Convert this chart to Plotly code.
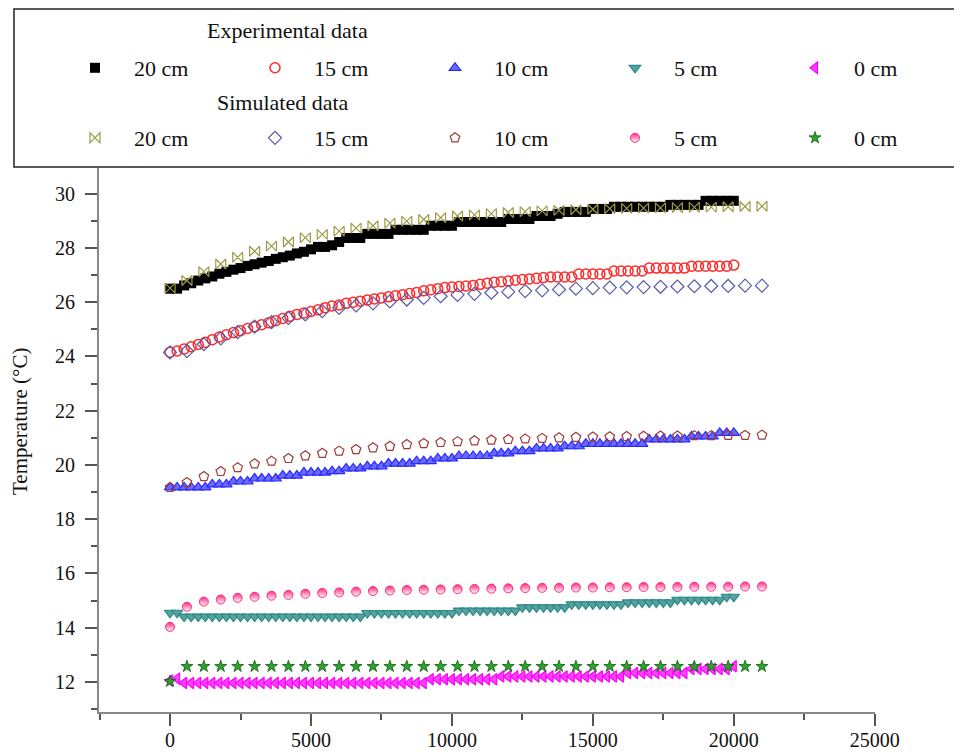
import plotly.graph_objects as go

# ---------------- data ----------------
t_exp = list(range(0, 20001, 250))     # s, experimental sampling
t_sim = list(range(0, 21001, 600))     # s, simulated output

exp_20 = [26.50, 26.50, 26.62, 26.70, 26.80, 26.88, 26.95, 27.05, 27.12, 27.20,
          27.26, 27.34, 27.40, 27.46, 27.52, 27.60, 27.66, 27.72, 27.80, 27.86,
          27.95, 28.04, 28.04, 28.10, 28.22, 28.37, 28.37, 28.37, 28.52, 28.52,
          28.52, 28.52, 28.67, 28.67, 28.67, 28.67, 28.67, 28.82, 28.82, 28.82,
          28.82, 28.96, 28.96, 28.96, 28.96, 28.96, 28.96, 28.96, 29.07, 29.07,
          29.07, 29.07, 29.18, 29.18, 29.18, 29.26, 29.33, 29.33, 29.33, 29.33,
          29.44, 29.44, 29.44, 29.52, 29.52, 29.52, 29.52, 29.52, 29.52, 29.52,
          29.52, 29.59, 29.59, 29.59, 29.59, 29.59, 29.74, 29.74, 29.74, 29.74,
          29.74]

exp_15 = [24.16, 24.20, 24.28, 24.36, 24.44, 24.52, 24.62, 24.72, 24.80, 24.88,
          24.95, 25.03, 25.10, 25.17, 25.24, 25.32, 25.40, 25.48, 25.55, 25.60,
          25.66, 25.72, 25.80, 25.86, 25.90, 25.96, 26.00, 26.04, 26.08, 26.12,
          26.16, 26.20, 26.24, 26.28, 26.32, 26.36, 26.42, 26.46, 26.50, 26.54,
          26.56, 26.58, 26.60, 26.62, 26.66, 26.70, 26.74, 26.76, 26.78, 26.81,
          26.84, 26.86, 26.88, 26.91, 26.93, 26.93, 26.93, 26.93, 27.04, 27.04,
          27.04, 27.04, 27.04, 27.15, 27.15, 27.15, 27.15, 27.15, 27.26, 27.26,
          27.26, 27.26, 27.26, 27.26, 27.33, 27.33, 27.33, 27.33, 27.33, 27.33,
          27.37]

exp_10 = [19.17, 19.17, 19.17, 19.17, 19.17, 19.17, 19.28, 19.28, 19.28, 19.39,
          19.39, 19.39, 19.50, 19.50, 19.50, 19.50, 19.61, 19.61, 19.61, 19.72,
          19.72, 19.72, 19.72, 19.77, 19.77, 19.87, 19.87, 19.87, 19.95, 19.95,
          19.95, 20.05, 20.05, 20.05, 20.05, 20.14, 20.14, 20.14, 20.24, 20.24,
          20.24, 20.33, 20.33, 20.33, 20.33, 20.33, 20.43, 20.43, 20.43, 20.51,
          20.51, 20.51, 20.61, 20.61, 20.61, 20.61, 20.69, 20.69, 20.69, 20.78,
          20.78, 20.78, 20.78, 20.78, 20.78, 20.78, 20.78, 20.78, 20.94, 20.94,
          20.94, 20.94, 20.94, 20.94, 21.05, 21.05, 21.05, 21.05, 21.18, 21.18,
          21.18]

exp_5 = [14.55, 14.55, 14.41, 14.41, 14.41, 14.41, 14.41, 14.41, 14.41, 14.41,
         14.41, 14.41, 14.41, 14.41, 14.41, 14.41, 14.41, 14.41, 14.41, 14.41,
         14.41, 14.41, 14.41, 14.41, 14.41, 14.41, 14.41, 14.41, 14.54, 14.54,
         14.54, 14.54, 14.54, 14.54, 14.54, 14.54, 14.54, 14.54, 14.54, 14.54,
         14.54, 14.63, 14.63, 14.63, 14.63, 14.63, 14.63, 14.63, 14.63, 14.63,
         14.75, 14.75, 14.75, 14.75, 14.75, 14.75, 14.75, 14.86, 14.86, 14.86,
         14.86, 14.86, 14.86, 14.86, 14.86, 14.93, 14.93, 14.93, 14.93, 14.93,
         14.93, 14.93, 15.03, 15.03, 15.03, 15.03, 15.03, 15.03, 15.03, 15.14,
         15.14]

exp_0 = [12.05, 12.12, 11.96, 11.96, 11.96, 11.96, 11.96, 11.96, 11.96, 11.96,
         11.96, 11.96, 11.96, 11.96, 11.96, 11.96, 11.96, 11.96, 11.96, 11.96,
         11.96, 11.96, 11.96, 11.96, 11.96, 11.96, 11.96, 11.96, 11.96, 11.96,
         11.96, 11.96, 11.96, 11.96, 11.96, 11.96, 11.96, 12.10, 12.10, 12.10,
         12.10, 12.10, 12.10, 12.10, 12.10, 12.10, 12.10, 12.20, 12.20, 12.20,
         12.20, 12.20, 12.20, 12.20, 12.20, 12.20, 12.20, 12.20, 12.20, 12.20,
         12.20, 12.20, 12.20, 12.20, 12.20, 12.33, 12.33, 12.33, 12.33, 12.33,
         12.33, 12.33, 12.33, 12.33, 12.48, 12.48, 12.48, 12.48, 12.48, 12.48,
         12.58]

sim_20 = [26.52, 26.80, 27.13, 27.41, 27.66, 27.88, 28.07, 28.22, 28.38, 28.50,
          28.62, 28.73, 28.82, 28.92, 28.99, 29.05, 29.12, 29.18, 29.22, 29.27,
          29.31, 29.34, 29.37, 29.39, 29.41, 29.43, 29.45, 29.46, 29.47, 29.48,
          29.49, 29.50, 29.51, 29.52, 29.53, 29.54]

sim_15 = [24.15, 24.20, 24.45, 24.67, 24.90, 25.10, 25.27, 25.42, 25.55, 25.67,
          25.79, 25.88, 25.96, 26.03, 26.10, 26.16, 26.22, 26.27, 26.31, 26.35,
          26.38, 26.41, 26.44, 26.47, 26.50, 26.52, 26.54, 26.55, 26.56, 26.57,
          26.58, 26.59, 26.60, 26.60, 26.61, 26.61]

sim_10 = [19.17, 19.35, 19.57, 19.76, 19.90, 20.04, 20.14, 20.24, 20.34, 20.43,
          20.51, 20.57, 20.63, 20.69, 20.75, 20.79, 20.83, 20.86, 20.89, 20.92,
          20.94, 20.96, 20.98, 21.00, 21.02, 21.03, 21.04, 21.05, 21.06, 21.07,
          21.07, 21.08, 21.08, 21.09, 21.09, 21.10]

sim_5 = [14.03, 14.77, 14.96, 15.04, 15.10, 15.14, 15.18, 15.21, 15.25, 15.28,
         15.30, 15.33, 15.35, 15.37, 15.39, 15.40, 15.41, 15.42, 15.43, 15.44,
         15.45, 15.46, 15.47, 15.47, 15.48, 15.48, 15.49, 15.49, 15.50, 15.50,
         15.50, 15.51, 15.51, 15.51, 15.52, 15.52]

sim_0 = [12.02, 12.57, 12.57, 12.57, 12.57, 12.57, 12.57, 12.57, 12.57, 12.57,
         12.57, 12.57, 12.57, 12.57, 12.57, 12.57, 12.57, 12.57, 12.57, 12.57,
         12.57, 12.57, 12.57, 12.57, 12.57, 12.57, 12.57, 12.57, 12.57, 12.57,
         12.57, 12.57, 12.57, 12.57, 12.57, 12.57]

labels = ["20 cm", "15 cm", "10 cm", "5 cm", "0 cm"]
x_ticks = [0, 5000, 10000, 15000, 20000, 25000]
y_ticks = [12, 14, 16, 18, 20, 22, 24, 26, 28, 30]

# ---------------- figure ----------------
FONT = "Liberation Serif, Times New Roman, serif"
OFF = 8                      # page body margin in the browser
W, H = 962 - OFF, 754 - OFF
ML, MT = 99 - OFF, 168 - OFF
PW, PH = 776, 544
MR, MB = W - ML - PW, H - MT - PH


def px_x(px):                # reference-screen pixel -> paper x
    return (px - OFF - ML) / PW


def px_y(py):                # reference-screen pixel -> paper y
    return (MT + PH - (py - OFF)) / PH


fig = go.Figure()

exp_series = [
    (exp_20, dict(symbol="square", size=10, color="#000000", line=dict(width=0))),
    (exp_15, dict(symbol="circle-open", size=10, color="#ff2a2a", line=dict(width=1.5))),
    (exp_10, dict(symbol="triangle-up", size=10, color="#6b6bff",
                  line=dict(width=1.2, color="#2a2aff"))),
    (exp_5, dict(symbol="triangle-down", size=10, color="#56a29f",
                 line=dict(width=1.2, color="#2a8a87"))),
    (exp_0, dict(symbol="triangle-left", size=10, color="#ff40ff",
                 line=dict(width=1.2, color="#ff00ff"))),
]
sim_series = [
    (sim_20, dict(symbol="bowtie-open", size=10, color="#9c9c48", line=dict(width=1.2))),
    (sim_15, dict(symbol="diamond-open", size=10, color="#5a5aa8", line=dict(width=1.2))),
    (sim_10, dict(symbol="pentagon-open", size=10, color="#a03a3a", line=dict(width=1.2))),
    (sim_5, dict(symbol="circle", size=9, color="#ff2a80",
                 gradient=dict(type="vertical", color="#ffffff"),
                 line=dict(width=1, color="#ff2a80"))),
    (sim_0, dict(symbol="star", size=9, color="#2ea02e", line=dict(width=0.8, color="#106010"))),
]

for i, (vals, mk) in enumerate(exp_series):
    fig.add_trace(go.Scatter(
        x=t_exp, y=vals, mode="markers", name=labels[i], marker=mk,
        legend="legend", legendwidth=(97 if i < 4 else 45), showlegend=True))

for i, (vals, mk) in enumerate(sim_series):
    fig.add_trace(go.Scatter(
        x=t_sim, y=vals, mode="markers", name=labels[i], marker=mk,
        legend="legend2", legendwidth=(97 if i < 4 else 45), showlegend=True))

leg_common = dict(
    orientation="h", xanchor="left", yanchor="middle",
    x=px_x(56), font=dict(family=FONT, size=22, color="#111111"),
    bgcolor="rgba(0,0,0,0)", borderwidth=0, entrywidthmode="pixels",
    entrywidth=97, itemwidth=68, traceorder="normal",
)

fig.update_layout(
    width=W, height=H,
    margin=dict(l=ML, r=MR, t=MT, b=MB, autoexpand=False),
    paper_bgcolor="white", plot_bgcolor="white",
    font=dict(family=FONT, size=20, color="#111111"),
    legend=dict(**leg_common, y=px_y(68)),
    legend2=dict(**leg_common, y=px_y(138)),
    xaxis=dict(
        range=[-2520, 25010], tickvals=x_ticks, ticktext=[str(v) for v in x_ticks],
        ticks="outside", ticklen=12, tickwidth=1.5, tickcolor="#555555",
        showline=True, linecolor="#888888", linewidth=2, showgrid=False, zeroline=False,
        tickfont=dict(family=FONT, size=20, color="#111111"), ticklabelstandoff=-3,
        minor=dict(dtick=2500, tick0=0, ticks="outside", ticklen=6, tickwidth=1.5,
                   tickcolor="#555555", showgrid=False),
    ),
    yaxis=dict(
        range=[10.89, 30.95], tickvals=y_ticks, ticktext=[str(v) for v in y_ticks],
        ticks="outside", ticklen=12, tickwidth=1.5, tickcolor="#555555",
        showline=True, linecolor="#888888", linewidth=2, showgrid=False, zeroline=False,
        tickfont=dict(family=FONT, size=20, color="#111111"), ticklabelstandoff=6,
        minor=dict(dtick=1, tick0=0, ticks="outside", ticklen=6, tickwidth=1.5,
                   tickcolor="#555555", showgrid=False),
    ),
    shapes=[dict(type="rect", xref="paper", yref="paper",
                 x0=px_x(14), x1=px_x(975), y0=px_y(167), y1=px_y(9),
                 line=dict(color="#222222", width=1.5), fillcolor="rgba(0,0,0,0)")],
    annotations=[
        dict(text="Experimental data", xref="paper", yref="paper",
             x=px_x(205), y=px_y(31), xanchor="left", yanchor="middle",
             showarrow=False, font=dict(family=FONT, size=22, color="#111111")),
        dict(text="Simulated data", xref="paper", yref="paper",
             x=px_x(215), y=px_y(102), xanchor="left", yanchor="middle",
             showarrow=False, font=dict(family=FONT, size=22, color="#111111")),
        dict(text="Temperature (°C)", xref="paper", yref="paper",
             x=px_x(20), y=px_y(422), xanchor="center", yanchor="middle",
             textangle=-90, showarrow=False,
             font=dict(family=FONT, size=21, color="#111111")),
    ],
)

fig.write_html("out.html")
